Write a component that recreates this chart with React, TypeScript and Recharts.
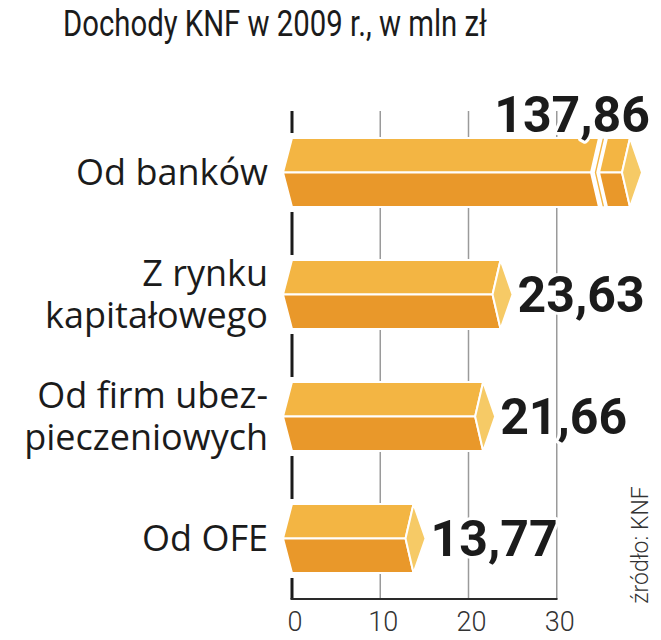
import React from 'react';
import {
  BarChart,
  Bar,
  XAxis,
  YAxis,
  CartesianGrid,
  LabelList,
  ReferenceArea,
} from 'recharts';

// ---- data ----
const TITLE = 'Dochody KNF w 2009 r., w mln zł';
const SOURCE = 'źródło: KNF';
const CATEGORIES = ['Od banków', 'Z rynku\nkapitałowego', 'Od firm ubez-\npieczeniowych', 'Od OFE'];
const VALUES = [137.86, 23.63, 21.66, 13.77];
const X_TICKS = [0, 10, 20, 30];
const X_DOMAIN = [0, 40];
// length (in axis units) at which a bar running off the scale is drawn, with a break
const BROKEN_BAR_LENGTH = 38.3;

const rows = CATEGORIES.map((name, i) => ({
  name,
  value: VALUES[i],
  shown: Math.min(VALUES[i], BROKEN_BAR_LENGTH),
}));

// ---- styles ----
const TOP = '#F3B543';
const BOTTOM = '#E9982A';
const CAP = '#F6CA66';
const INK = '#1b1b1b';
const IND = 9; // left point indent
const CAP_IN = 8;
const CAP_OUT = 12;

const fmt = (v: number) => v.toFixed(2).replace('.', ',');

const poly = (pts: number[][]) => 'M' + pts.map((p) => p.join(' ')).join(' L') + ' Z';

const BarShape = (props: any) => {
  const { x, y, width, height, payload } = props;
  const h = height;
  const ym = y + h / 2;
  const xe = x + width;
  const broken = payload.value > payload.shown;
  const sw = { stroke: '#fff', strokeWidth: 2, strokeLinejoin: 'round' as const };
  const parts: React.ReactNode[] = [];
  parts.push(<rect key="bg" x={x - 5} y={y - 5} width={10} height={h + 10} fill="#fff" />);
  if (!broken) {
    parts.push(<path key="t" d={poly([[x, y], [xe, y], [xe - CAP_IN, ym], [x - IND, ym]])} fill={TOP} {...sw} />);
    parts.push(<path key="b" d={poly([[x - IND, ym], [xe - CAP_IN, ym], [xe, y + h], [x, y + h]])} fill={BOTTOM} {...sw} />);
  } else {
    const xb = xe - 31;
    const xs = xe - 23;
    parts.push(<path key="t1" d={poly([[x, y], [xb, y], [xb - CAP_IN, ym], [x - IND, ym]])} fill={TOP} {...sw} />);
    parts.push(<path key="b1" d={poly([[x - IND, ym], [xb - CAP_IN, ym], [xb, y + h], [x, y + h]])} fill={BOTTOM} {...sw} />);
    parts.push(
      <path
        key="sl"
        d={poly([[xb + 3, y], [xb + 6, y], [xb + 6 - CAP_IN, ym], [xb + 6, y + h], [xb + 3, y + h], [xb + 3 - CAP_IN, ym]])}
        fill={TOP}
        {...sw}
        strokeWidth={1.5}
      />
    );
    parts.push(<path key="t2" d={poly([[xs, y], [xe, y], [xe - CAP_IN, ym], [xs - CAP_IN, ym]])} fill={TOP} {...sw} />);
    parts.push(<path key="b2" d={poly([[xs - CAP_IN, ym], [xe - CAP_IN, ym], [xe, y + h], [xs, y + h]])} fill={BOTTOM} {...sw} />);
  }
  parts.push(<path key="c" d={poly([[xe, y], [xe + CAP_OUT, ym], [xe, y + h], [xe - CAP_IN, ym]])} fill={CAP} {...sw} />);
  return <g>{parts}</g>;
};

const ValueLabel = (props: any) => {
  const { x, y, width, height, index } = props;
  const v = VALUES[index];
  const xe = x + width;
  const broken = v > BROKEN_BAR_LENGTH;
  const common = {
    fontFamily: 'Roboto, "Liberation Sans", sans-serif',
    fontWeight: 700,
    fontSize: 50,
    fill: INK,
    stroke: '#fff',
    strokeWidth: 6,
    paintOrder: 'stroke' as const,
    strokeLinejoin: 'round' as const,
  };
  if (broken) {
    return (
      <text x={xe + CAP_OUT + 8} y={y - 6} textAnchor="end" {...common}>
        {fmt(v)}
      </text>
    );
  }
  return (
    <text x={xe + CAP_OUT + 5} y={y + height / 2 + 17} textAnchor="start" {...common}>
      {fmt(v)}
    </text>
  );
};

const YTick = (props: any) => {
  const { x, y, payload } = props;
  const lines = String(payload.value).split('\n');
  const lh = 42;
  const first = y - ((lines.length - 1) * lh) / 2 + 13;
  return (
    <text
      textAnchor="end"
      fontFamily='"Open Sans", sans-serif'
      fontSize={36}
      fill={INK}
    >
      {lines.map((l, i) => (
        <tspan key={i} x={x} y={first + i * lh}>
          {l}
        </tspan>
      ))}
    </text>
  );
};

const XTick = (props: any) => {
  const { x, y, payload } = props;
  return (
    <text
      x={x + 3}
      y={y + 32}
      textAnchor="middle"
      fontFamily="Roboto, sans-serif"
      fontWeight={300}
      fontSize={27}
      fill="#333"
    >
      {payload.value}
    </text>
  );
};

const GridLine = (props: any) => {
  const { x1, y1, x2, y2, index } = props;
  if (index === 0) {
    return <line x1={x1} y1={y1} x2={x2} y2={y2} stroke={INK} strokeWidth={3} />;
  }
  return <line x1={x1} y1={y1} x2={x2} y2={y2} stroke="#9a9a9a" strokeWidth={1.5} />;
};

const AxisBaseLine = (props: any) => {
  const { x, y, width, height } = props;
  return <line x1={x - 1.5} y1={y + height} x2={x + width + 0.75} y2={y + height} stroke="#2a2a2a" strokeWidth={2} />;
};

export default function App() {
  return (
    <div style={{ position: 'absolute', left: 0, top: 0, width: 661, height: 640, background: '#fff' }}>
      <svg width={661} height={60} style={{ position: 'absolute', left: 0, top: 0 }}>
        <text
          x={275}
          y={36}
          textAnchor="middle"
          fontFamily="Roboto, sans-serif"
          fontSize={37}
          fill={INK}
          textLength={424}
          lengthAdjust="spacingAndGlyphs"
        >
          {TITLE}
        </text>
      </svg>
      <div style={{ position: 'absolute', left: 0, top: 0 }}>
        <BarChart
          width={661}
          height={640}
          data={rows}
          layout="vertical"
          margin={{ top: 111, right: 16, bottom: 0, left: 0 }}
          barSize={69}
        >
          <CartesianGrid horizontal={false} vertical={GridLine} syncWithTicks />
          <XAxis
            type="number"
            domain={X_DOMAIN}
            ticks={X_TICKS}
            axisLine={false}
            tickLine={false}
            tickSize={0}
            tickMargin={0}
            height={41}
            tick={XTick}
            interval={0}
          />
          <YAxis
            type="category"
            dataKey="name"
            width={292}
            axisLine={false}
            tickLine={false}
            tickSize={0}
            tickMargin={24}
            tick={YTick}
            interval={0}
          />
          <ReferenceArea x1={0} x2={30} shape={AxisBaseLine} ifOverflow="visible" />
          <Bar dataKey="shown" shape={BarShape} isAnimationActive={false}>
            <LabelList dataKey="shown" content={ValueLabel} />
          </Bar>
        </BarChart>
      </div>
      <svg width={661} height={640} style={{ position: 'absolute', left: 0, top: 0, pointerEvents: 'none' }}>
        <text
          transform="translate(648, 545) rotate(-90)"
          textAnchor="middle"
          fontFamily="Roboto, sans-serif"
          fontWeight={300}
          fontSize={23}
          fill="#333"
        >
          {SOURCE}
        </text>
      </svg>
    </div>
  );
}
